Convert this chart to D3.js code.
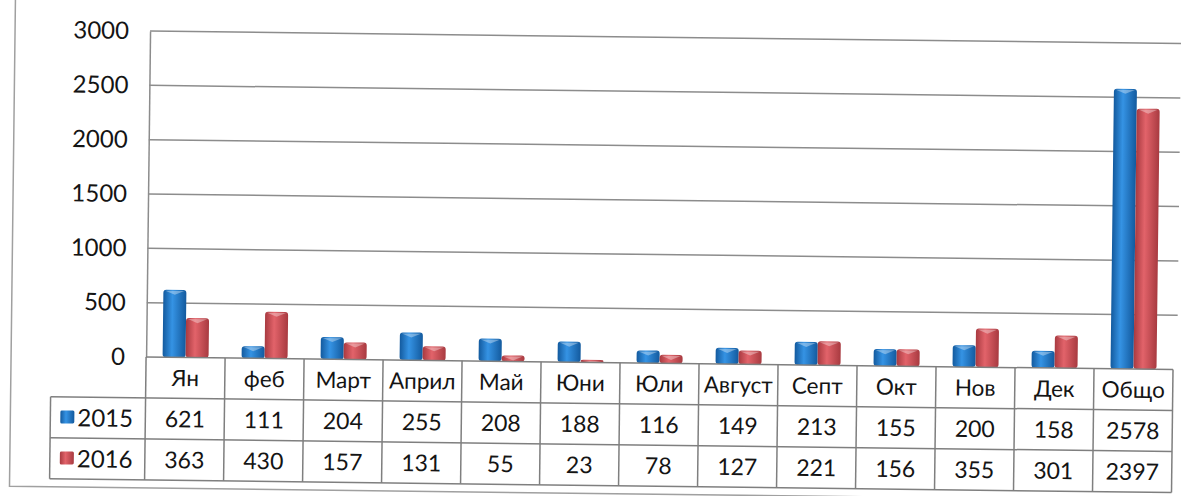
<!DOCTYPE html>
<html>
<head>
<meta charset="utf-8">
<script src="https://cdn.jsdelivr.net/npm/d3@7"></script>
<style>
  body { margin: 0; background: #fff; }
  svg { display: block; }
  text { font-family: Lato, "Open Sans", sans-serif; fill: #141414; }
</style>
</head>
<body>
<div id="chart"></div>
<script>
// chart data
let categories = ["Ян", "феб", "Март", "Април", "Май", "Юни", "Юли", "Август", "Септ", "Окт", "Нов", "Дек", "Общо"];
let values2015 = [621, 111, 204, 255, 208, 188, 116, 149, 213, 155, 200, 158, 2578];
let values2016 = [363, 430, 157, 131, 55, 23, 78, 127, 221, 156, 355, 301, 2397];
let seriesNames = ["2015", "2016"];
let yTicks = [0, 500, 1000, 1500, 2000, 2500, 3000];

let width = 1191, height = 496;
let plotLeft = 148, colW = 79;
let plotRight = plotLeft + categories.length * colW;
let zeroY = 357, topY = 31, rowH = 41;
let legendLeft = 53;

let svg = d3.select("#chart").append("svg")
    .attr("width", width)
    .attr("height", height);

// gradients for the bars
let defs = svg.append("defs");
let colors = [
    {id: "g2015", edge: "#135a9e", mid: "#3593e4"},
    {id: "g2016", edge: "#a83a40", mid: "#e2636a"}
];
colors.forEach(function (c) {
    let g = defs.append("linearGradient").attr("id", c.id)
        .attr("x1", "0%").attr("x2", "100%").attr("y1", "0%").attr("y2", "0%");
    g.append("stop").attr("offset", "0%").attr("stop-color", c.edge);
    g.append("stop").attr("offset", "40%").attr("stop-color", c.mid);
    g.append("stop").attr("offset", "100%").attr("stop-color", c.edge);
});

// the scan is tilted a little, so everything goes in a rotated group
let chart = svg.append("g")
    .attr("transform", "rotate(0.7," + plotLeft + ",200)");

// outer frame of the chart
chart.append("path")
    .attr("d", "M13,-10 L13,488 L1210,488")
    .attr("fill", "none")
    .attr("stroke", "#a0a0a0")
    .attr("stroke-width", 1.5);

let x = d3.scaleBand()
    .domain(categories)
    .range([plotLeft, plotRight]);

let x1 = d3.scaleBand()
    .domain(seriesNames)
    .range([0, 46]);

let y = d3.scaleLinear()
    .domain([0, 3000])
    .range([zeroY, topY]);

// gridlines
chart.append("g").selectAll("line")
    .data(yTicks.filter(function (d) { return d > 0; }))
    .enter().append("line")
    .attr("x1", plotLeft).attr("x2", plotRight + 4)
    .attr("y1", function (d) { return y(d); })
    .attr("y2", function (d) { return y(d); })
    .attr("stroke", "#8c8c8c")
    .attr("stroke-width", 1.5);

// y axis labels
let yAxis = chart.append("g")
    .attr("transform", "translate(" + plotLeft + ",0)")
    .call(d3.axisLeft(y).tickValues(yTicks).tickFormat(d3.format("d")).tickSize(0).tickPadding(21));
yAxis.select(".domain").attr("stroke", "#8c8c8c").attr("stroke-width", 1.5);
yAxis.selectAll("text")
    .style("font-size", "24px")
    .style("font-family", "Lato, 'Open Sans', sans-serif")
    .attr("fill", "#141414");

// bars
let rows = seriesNames.map(function (s, i) {
    return {name: s, values: i == 0 ? values2015 : values2016, grad: colors[i].id};
});

rows.forEach(function (r) {
    let g = chart.append("g");
    let bw = x1.bandwidth();
    let off = (colW - 46) / 2;
    g.selectAll("rect")
        .data(r.values)
        .enter().append("rect")
        .attr("x", function (d, i) { return x(categories[i]) + off + x1(r.name); })
        .attr("y", function (d) { return y(d); })
        .attr("width", bw)
        .attr("height", function (d) { return zeroY - y(d); })
        .attr("rx", 3)
        .attr("fill", "url(#" + r.grad + ")");
    // small bevel highlight on top of each bar
    g.selectAll("path")
        .data(r.values)
        .enter().append("path")
        .attr("d", function (d, i) {
            let bx = x(categories[i]) + off + x1(r.name), by = y(d);
            let h = Math.min(5, zeroY - by);
            return "M" + (bx + 2) + "," + (by + 1) + " L" + (bx + bw / 2) + "," + (by + h) +
                " L" + (bx + bw - 2) + "," + (by + 1) + " Z";
        })
        .attr("fill", "#ffffff")
        .attr("opacity", 0.35);
});

// data table below the plot
let table = chart.append("g");
let lineColor = "#7f7f7f";
let tableBottom = zeroY + rowH * 3;

function hline(x1v, x2v, yv) {
    table.append("line").attr("x1", x1v).attr("x2", x2v).attr("y1", yv).attr("y2", yv)
        .attr("stroke", lineColor).attr("stroke-width", 1.5);
}
function vline(xv, y1v, y2v) {
    table.append("line").attr("x1", xv).attr("x2", xv).attr("y1", y1v).attr("y2", y2v)
        .attr("stroke", lineColor).attr("stroke-width", 1.5);
}

hline(plotLeft, plotRight, zeroY);
hline(legendLeft, plotRight, zeroY + rowH);
hline(legendLeft, plotRight, zeroY + rowH * 2);
hline(legendLeft, plotRight, tableBottom);
vline(legendLeft, zeroY + rowH, tableBottom);
categories.forEach(function (c) { vline(x(c), zeroY, tableBottom); });
vline(plotRight, zeroY, tableBottom);

// category names
table.selectAll(".cat")
    .data(categories)
    .enter().append("text")
    .attr("class", "cat")
    .attr("x", function (d) { return x(d) + colW / 2; })
    .attr("y", zeroY + rowH / 2)
    .attr("dy", "0.36em")
    .attr("text-anchor", "middle")
    .style("font-size", "22.5px")
    .text(function (d) { return d; });

rows.forEach(function (r, k) {
    let cy = zeroY + rowH * (k + 1) + rowH / 2;
    // legend key
    table.append("rect")
        .attr("x", 63).attr("y", cy - 7)
        .attr("width", 14).attr("height", 13)
        .attr("rx", 1.5)
        .attr("fill", "url(#" + r.grad + ")");
    table.append("text")
        .attr("x", 80).attr("y", cy)
        .attr("dy", "0.36em")
        .style("font-size", "24px")
        .text(r.name);
    table.selectAll(".v" + k)
        .data(r.values)
        .enter().append("text")
        .attr("class", "v" + k)
        .attr("x", function (d, i) { return x(categories[i]) + colW / 2; })
        .attr("y", cy)
        .attr("dy", "0.36em")
        .attr("text-anchor", "middle")
        .style("font-size", "23px")
        .text(function (d) { return d; });
});
</script>
</body>
</html>
